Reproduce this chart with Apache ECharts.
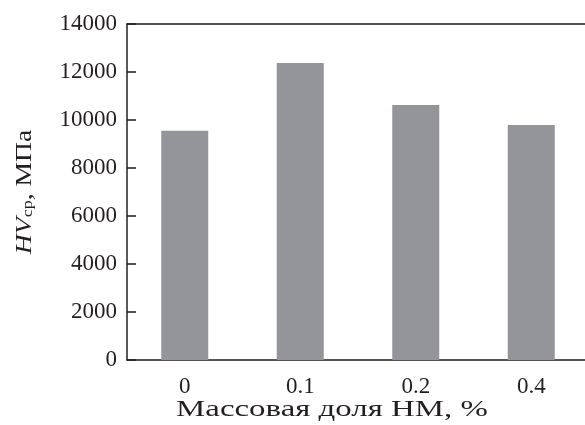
<!DOCTYPE html>
<html>
<head>
<meta charset="utf-8">
<script src="https://cdn.jsdelivr.net/npm/echarts@6/dist/echarts.min.js"></script>
<style>
    html, body { margin: 0; padding: 0; background: #fff; }
    #chart { width: 585px; height: 425px; }
</style>
</head>
<body>
<div id="chart"></div>
<script>
    // данные с рисунка
    const categories = ['0', '0.1', '0.2', '0.4']
    const hvValues = [9550, 12380, 10620, 9790]
    const yMin = 0
    const yMax = 14000
    const yStep = 2000
    const xTitle = 'Массовая доля НМ, %'

    const font = 'Liberation Serif'
    const ink = '#231f20'

    let myChart = echarts.init(document.getElementById('chart'))
    let option = {
        animation: false,
        grid: {
            left: 127,
            top: 24,
            width: 462,
            height: 336,
            outerBoundsMode: 'none'
        },
        // подписи осей (шрифт оригинала шире, поэтому растянуты по горизонтали)
        graphic: [
            {
                type: 'text',
                x: 332,
                y: 410,
                scaleX: 1.43,
                style: {
                    text: xTitle,
                    fontFamily: font,
                    fontSize: 23,
                    fill: ink,
                    align: 'center',
                    verticalAlign: 'middle'
                }
            },
            {
                type: 'text',
                x: 23,
                y: 192,
                rotation: Math.PI / 2,
                scaleX: 1.2,
                style: {
                    text: '{i|HV}{s|ср}{n|, МПа}',
                    align: 'center',
                    verticalAlign: 'middle',
                    rich: {
                        i: { fontFamily: font, fontStyle: 'italic', fontSize: 23, fill: ink, verticalAlign: 'bottom', lineHeight: 26 },
                        s: { fontFamily: font, fontSize: 15, fill: ink, verticalAlign: 'bottom', lineHeight: 20 },
                        n: { fontFamily: font, fontSize: 23, fill: ink, verticalAlign: 'bottom', lineHeight: 26 }
                    }
                }
            }
        ],
        xAxis: [
            {
                type: 'category',
                data: categories,
                axisLine: { lineStyle: { color: ink, width: 1.5 } },
                axisTick: {
                    inside: true,
                    length: 9,
                    lineStyle: { color: ink, width: 1.5 }
                },
                axisLabel: {
                    margin: 15,
                    fontFamily: font,
                    fontSize: 23,
                    color: ink
                }
            },
            {
                // верхняя рамка
                type: 'category',
                position: 'top',
                data: categories,
                axisLine: { lineStyle: { color: ink, width: 1.5 } },
                axisTick: { show: false },
                axisLabel: { show: false }
            }
        ],
        yAxis: {
            type: 'value',
            min: yMin,
            max: yMax,
            interval: yStep,
            axisLine: { show: true, lineStyle: { color: ink, width: 1.5 } },
            axisTick: {
                show: true,
                inside: true,
                length: 9,
                lineStyle: { color: ink, width: 1.5 }
            },
            splitLine: { show: false },
            axisLabel: {
                margin: 10,
                fontFamily: font,
                fontSize: 23,
                color: ink,
                formatter: v => String(v)
            }
        },
        series: [
            {
                type: 'bar',
                data: hvValues,
                barWidth: 47,
                itemStyle: { color: '#939598' }
            }
        ]
    }
    myChart.setOption(option)
</script>
</body>
</html>
